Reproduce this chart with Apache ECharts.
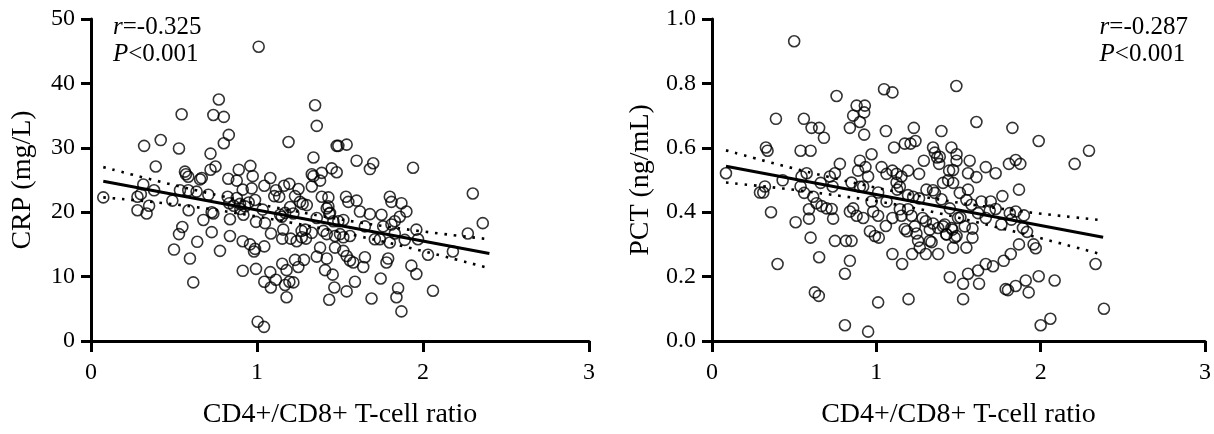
<!DOCTYPE html>
<html>
<head>
<meta charset="utf-8">
<style>html,body{margin:0;padding:0;background:#fff}#c{width:1214px;height:434px}</style>
<script src="https://cdn.jsdelivr.net/npm/echarts@6/dist/echarts.min.js"></script>
</head>
<body>
<div id="c"></div>
<script>
// ---- data ----
const xTicks = [0, 1, 2, 3];
const crpTicks = [0, 10, 20, 30, 40, 50];
const pctTicks = [0, 0.2, 0.4, 0.6, 0.8, 1.0];

const crpPoints = [
[1.01,45.7],[0.77,37.5],[0.546,35.2],[0.737,35.1],[0.80,34.8],[1.35,36.6],[1.36,33.4],[1.19,30.9],[0.32,30.3],[0.42,31.2],
[0.53,29.9],[0.83,32.0],[0.80,30.7],[0.72,29.1],[1.48,30.3],[1.34,28.5],[0.39,27.1],[0.75,27.1],[0.72,26.6],[0.96,27.2],
[0.89,26.6],[1.45,26.8],[1.48,26.2],[0.074,22.3],
[0.566,26.3],[0.572,25.9],[0.586,25.5],[0.657,25.1],[0.667,25.3],[0.974,25.6],[1.08,25.3],[1.044,24.1],[0.827,25.2],[0.878,24.9],
[0.914,23.5],[0.968,23.7],[1.114,23.4],[1.163,24.1],[1.195,24.4],[1.25,23.6],[1.34,25.6],[1.33,24.0],[1.38,24.9],
[0.315,24.3],[0.30,22.8],[0.28,22.4],[0.38,23.4],[0.35,21.0],[0.28,20.3],[0.335,19.8],[0.49,21.8],[0.536,23.4],[0.586,23.4],
[0.636,23.2],[0.707,22.7],[0.588,20.3],[0.677,18.8],[0.727,20.0],[0.737,19.8],[0.823,22.4],[0.833,21.4],[0.878,22.2],[0.898,21.3],
[0.928,20.9],[0.918,19.6],[0.837,18.9],[0.988,21.9],[1.034,20.4],[0.994,18.5],[1.048,18.3],[1.104,22.5],[1.134,22.4],[1.229,22.5],
[1.259,21.6],[1.275,21.3],[1.30,21.1],[1.139,19.6],[1.149,19.3],[1.219,19.8],[1.36,19.1],[1.39,22.4],[1.43,22.3],[1.42,20.6],
[1.435,19.8],[1.46,18.6],[0.86,21.0],[0.90,20.5],[0.95,21.5],[1.17,19.9],[1.20,20.8],
[0.55,17.7],[0.53,16.6],[0.64,15.4],[0.50,14.2],[0.596,12.8],[0.777,14.0],[0.727,16.9],[0.837,16.3],[0.914,15.5],[0.958,15.0],
[0.988,14.3],[0.982,13.9],[1.044,14.7],[1.084,16.7],[1.158,17.3],[1.152,15.9],[1.203,15.9],[1.239,15.5],[1.269,17.1],[1.295,15.9],
[1.33,16.8],[1.38,14.5],[1.36,13.1],[1.42,12.8],[1.47,14.5],[0.616,9.1],[0.914,10.9],[0.994,11.2],[1.08,10.7],[1.044,9.2],
[1.083,8.3],[1.114,9.5],[1.152,12.0],[1.178,11.0],[1.169,8.7],[1.195,9.2],[1.219,9.1],[1.178,6.8],[1.229,12.6],[1.283,12.6],
[1.249,11.5],[1.41,11.0],[1.456,10.3],[1.466,8.3],[1.435,6.4],[1.004,3.0],[1.042,2.2],
[1.49,30.3],[1.54,30.5],[1.60,28.0],[1.68,26.7],[1.70,27.6],[1.94,26.9],[1.33,25.9],[1.39,26.1],
[1.536,22.4],[1.55,21.6],[1.60,21.8],[1.43,20.9],[1.44,19.9],[1.62,20.1],[1.68,19.7],[1.75,19.6],[1.80,22.4],[1.81,21.6],
[1.87,21.4],[1.90,20.1],[1.86,19.3],[1.83,18.6],[1.81,18.1],[1.76,17.8],[1.49,18.6],[1.52,18.8],[1.65,17.8],[1.29,17.3],
[1.27,16.1],[1.40,17.1],[1.42,16.6],[1.47,16.3],[1.50,16.6],[1.52,16.1],[1.56,16.3],[1.71,15.8],[1.74,15.8],[1.80,15.3],
[1.83,16.7],[1.89,15.7],[1.96,17.3],[1.97,15.8],[2.27,16.7],[2.30,22.9],[2.36,18.3],[2.18,13.9],[2.03,13.4],
[1.52,14.0],[1.54,13.2],[1.56,12.5],[1.58,12.2],[1.65,13.0],[1.64,11.5],[1.79,12.8],[1.78,12.2],[1.93,11.7],[1.96,10.4],
[1.59,9.2],[1.745,9.7],[1.54,7.7],[1.69,6.6],[1.85,8.2],[1.84,6.8],[1.87,4.6],[2.06,7.8]
];

const pctPoints = [
[0.50,0.931],[0.758,0.761],[1.047,0.782],[1.098,0.772],[1.487,0.792],[0.389,0.690],[0.559,0.690],[0.606,0.662],[0.652,0.662],[0.681,0.631],
[0.880,0.731],[0.930,0.731],[0.859,0.700],[0.926,0.710],[0.900,0.680],[0.839,0.662],[0.926,0.641],[1.058,0.652],[1.228,0.662],[1.396,0.652],
[0.328,0.601],[0.338,0.591],[0.539,0.591],[0.600,0.591],[0.971,0.580],[1.108,0.601],[1.173,0.613],[1.208,0.613],[1.238,0.621],[1.345,0.601],
[1.356,0.585],[1.457,0.601],[1.488,0.580],[0.085,0.521],[0.322,0.480],[0.292,0.461],[0.312,0.461],[0.430,0.499],[0.359,0.400],[0.576,0.521],
[0.545,0.511],[0.539,0.480],[0.561,0.460],[0.616,0.448],[0.636,0.428],[0.667,0.419],[0.697,0.412],[0.728,0.410],[0.590,0.409],[0.590,0.380],
[0.509,0.369],[0.737,0.380],[0.661,0.491],[0.717,0.511],[0.748,0.521],[0.778,0.550],[0.734,0.480],[0.849,0.492],[0.900,0.560],[0.889,0.529],
[0.934,0.540],[0.950,0.511],[0.900,0.479],[0.920,0.480],[1.032,0.540],[1.062,0.519],[1.098,0.529],[1.123,0.519],[1.153,0.511],[1.193,0.529],
[1.260,0.519],[1.289,0.560],[1.370,0.570],[1.382,0.550],[1.443,0.529],[1.467,0.531],[1.406,0.491],[1.437,0.499],[1.467,0.491],[1.305,0.470],
[1.356,0.460],[1.123,0.492],[1.143,0.479],[1.127,0.470],[1.193,0.453],[1.224,0.448],[1.260,0.443],[1.011,0.461],[1.062,0.433],[0.971,0.433],
[0.839,0.402],[0.859,0.412],[0.880,0.389],[0.920,0.382],[0.981,0.402],[1.011,0.389],[0.961,0.341],[0.991,0.326],[1.015,0.321],[1.058,0.357],
[1.098,0.382],[1.143,0.409],[1.153,0.389],[1.193,0.409],[1.214,0.389],[1.173,0.348],[1.187,0.341],[1.234,0.356],[1.244,0.334],[1.281,0.382],
[1.301,0.372],[1.345,0.365],[1.325,0.346],[1.376,0.351],[1.416,0.362],[1.426,0.331],[1.463,0.346],[1.497,0.382],[1.477,0.321],[1.467,0.290],
[1.254,0.311],[1.325,0.311],[1.264,0.290],[1.301,0.270],[1.376,0.270],[1.218,0.270],[1.157,0.239],[1.098,0.270],[0.748,0.311],[0.815,0.311],
[0.849,0.311],[0.600,0.321],[0.652,0.260],[0.399,0.239],[0.839,0.249],[0.809,0.209],[1.447,0.198],[0.626,0.151],[0.650,0.140],[1.011,0.120],
[1.196,0.130],[0.809,0.049],[0.950,0.029],
[1.609,0.680],[1.828,0.662],[1.988,0.621],[2.294,0.591],[2.207,0.550],[1.386,0.572],[1.488,0.560],[1.568,0.560],[1.666,0.540],[1.726,0.521],
[1.807,0.550],[1.848,0.562],[1.876,0.550],[1.558,0.521],[1.609,0.509],[1.558,0.470],[1.868,0.470],[1.767,0.450],[1.345,0.468],[1.396,0.440],
[1.508,0.460],[1.548,0.438],[1.579,0.423],[1.639,0.433],[1.696,0.433],[1.726,0.410],[1.690,0.405],[1.619,0.397],[1.666,0.382],[1.512,0.384],
[1.447,0.412],[1.812,0.397],[1.848,0.402],[1.898,0.390],[1.822,0.377],[1.761,0.362],[1.892,0.351],[1.917,0.339],[1.406,0.356],[1.457,0.351],
[1.538,0.356],[1.585,0.349],[1.427,0.331],[1.488,0.326],[1.585,0.321],[1.336,0.307],[1.548,0.290],[1.868,0.300],[1.957,0.300],[1.970,0.288],
[1.818,0.270],[1.775,0.249],[1.710,0.232],[1.666,0.239],[1.619,0.219],[1.558,0.209],[1.528,0.178],[1.625,0.178],[1.528,0.130],[1.787,0.161],
[1.801,0.158],[1.848,0.171],[1.909,0.188],[1.927,0.151],[1.988,0.201],[2.085,0.188],[2.334,0.239],[2.385,0.100],[2.000,0.049],[2.059,0.069]
];

// fitted line and dotted 95% band
const crpFit   = [[0.074,24.8],[2.40,13.6]];
const crpUpper = [[0.074,27.0],[0.6,23.6],[1.2,20.3],[1.8,17.7],[2.40,15.8]];
const crpLower = [[0.074,22.3],[0.6,20.9],[1.2,18.4],[1.8,15.2],[2.40,11.3]];
const pctFit   = [[0.085,0.543],[2.38,0.322]];
const pctUpper = [[0.085,0.592],[0.6,0.523],[1.2,0.456],[1.8,0.408],[2.38,0.375]];
const pctLower = [[0.085,0.492],[0.6,0.463],[1.2,0.416],[1.8,0.345],[2.38,0.268]];

// ---- chart ----
const FONT = "'Liberation Serif','Times New Roman',serif";
const chart = echarts.init(document.getElementById('c'), null, {renderer: 'canvas'});

function xAxisCfg(gridIndex) {
  return {
    gridIndex, type: 'value', min: xTicks[0], max: xTicks[xTicks.length - 1], interval: 1,
    name: 'CD4+/CD8+ T-cell ratio', nameLocation: 'middle', nameGap: 60,
    nameTextStyle: {fontFamily: FONT, fontSize: 28, color: '#000'},
    axisLine: {lineStyle: {color: '#000', width: 3}},
    axisTick: {length: 11, lineStyle: {color: '#000', width: 3}},
    axisLabel: {fontFamily: FONT, fontSize: 24, color: '#000', margin: 20},
    splitLine: {show: false}
  };
}
function yAxisCfg(gridIndex, ticks, name, gap, fmt) {
  return {
    gridIndex, type: 'value', min: ticks[0], max: ticks[ticks.length - 1], interval: ticks[1] - ticks[0],
    name, nameLocation: 'middle', nameGap: gap,
    nameTextStyle: {fontFamily: FONT, fontSize: 28, color: '#000'},
    axisLine: {show: true, lineStyle: {color: '#000', width: 3}},
    axisTick: {show: true, length: 10, lineStyle: {color: '#000', width: 3}},
    axisLabel: {fontFamily: FONT, fontSize: 24, color: '#000', margin: 16, formatter: fmt},
    splitLine: {show: false}
  };
}
const scatterStyle = {
  type: 'scatter', symbol: 'circle', symbolSize: 11,
  itemStyle: {color: 'rgba(0,0,0,0)', borderColor: '#000', borderWidth: 1.6},
  silent: true, z: 2
};
function fitSeries(data, xi) {
  return {type: 'line', xAxisIndex: xi, yAxisIndex: xi, data, symbol: 'none', silent: true,
    lineStyle: {color: '#000', width: 3}, z: 3};
}
function bandSeries(data, xi) {
  return {type: 'line', xAxisIndex: xi, yAxisIndex: xi, data, symbol: 'none', silent: true, smooth: 0.4,
    lineStyle: {color: '#000', width: 2.6, type: [2.6, 6.8]}, z: 3};
}
const annot = (r) => '{i|r}{n|=' + r + '}\n{i|P}{n|<0.001}';
const rich = {
  i: {fontFamily: FONT, fontSize: 25, fontStyle: 'italic', fontWeight: 'normal', color: '#000', lineHeight: 27},
  n: {fontFamily: FONT, fontSize: 25, fontWeight: 'normal', color: '#000', lineHeight: 27}
};

chart.setOption({
  animation: false,
  backgroundColor: '#fff',
  title: [
    {text: annot('-0.325'), left: 108, top: 9, textStyle: {fontWeight: 'normal', rich}},
    {text: annot('-0.287'), right: 21, top: 9, textStyle: {fontWeight: 'normal', rich}}
  ],
  grid: [
    {left: 91, top: 19, width: 498, height: 328},
    {left: 712, top: 19, width: 493, height: 328}
  ],
  xAxis: [xAxisCfg(0), xAxisCfg(1)],
  yAxis: [
    yAxisCfg(0, crpTicks, 'CRP (mg/L)', 54, v => String(v)),
    yAxisCfg(1, pctTicks, 'PCT (ng/mL)', 57, v => v.toFixed(1))
  ],
  series: [
    Object.assign({}, scatterStyle, {xAxisIndex: 0, yAxisIndex: 0, data: crpPoints}),
    fitSeries(crpFit, 0), bandSeries(crpUpper, 0), bandSeries(crpLower, 0),
    Object.assign({}, scatterStyle, {xAxisIndex: 1, yAxisIndex: 1, data: pctPoints}),
    fitSeries(pctFit, 1), bandSeries(pctUpper, 1), bandSeries(pctLower, 1)
  ]
});
</script>
</body>
</html>
